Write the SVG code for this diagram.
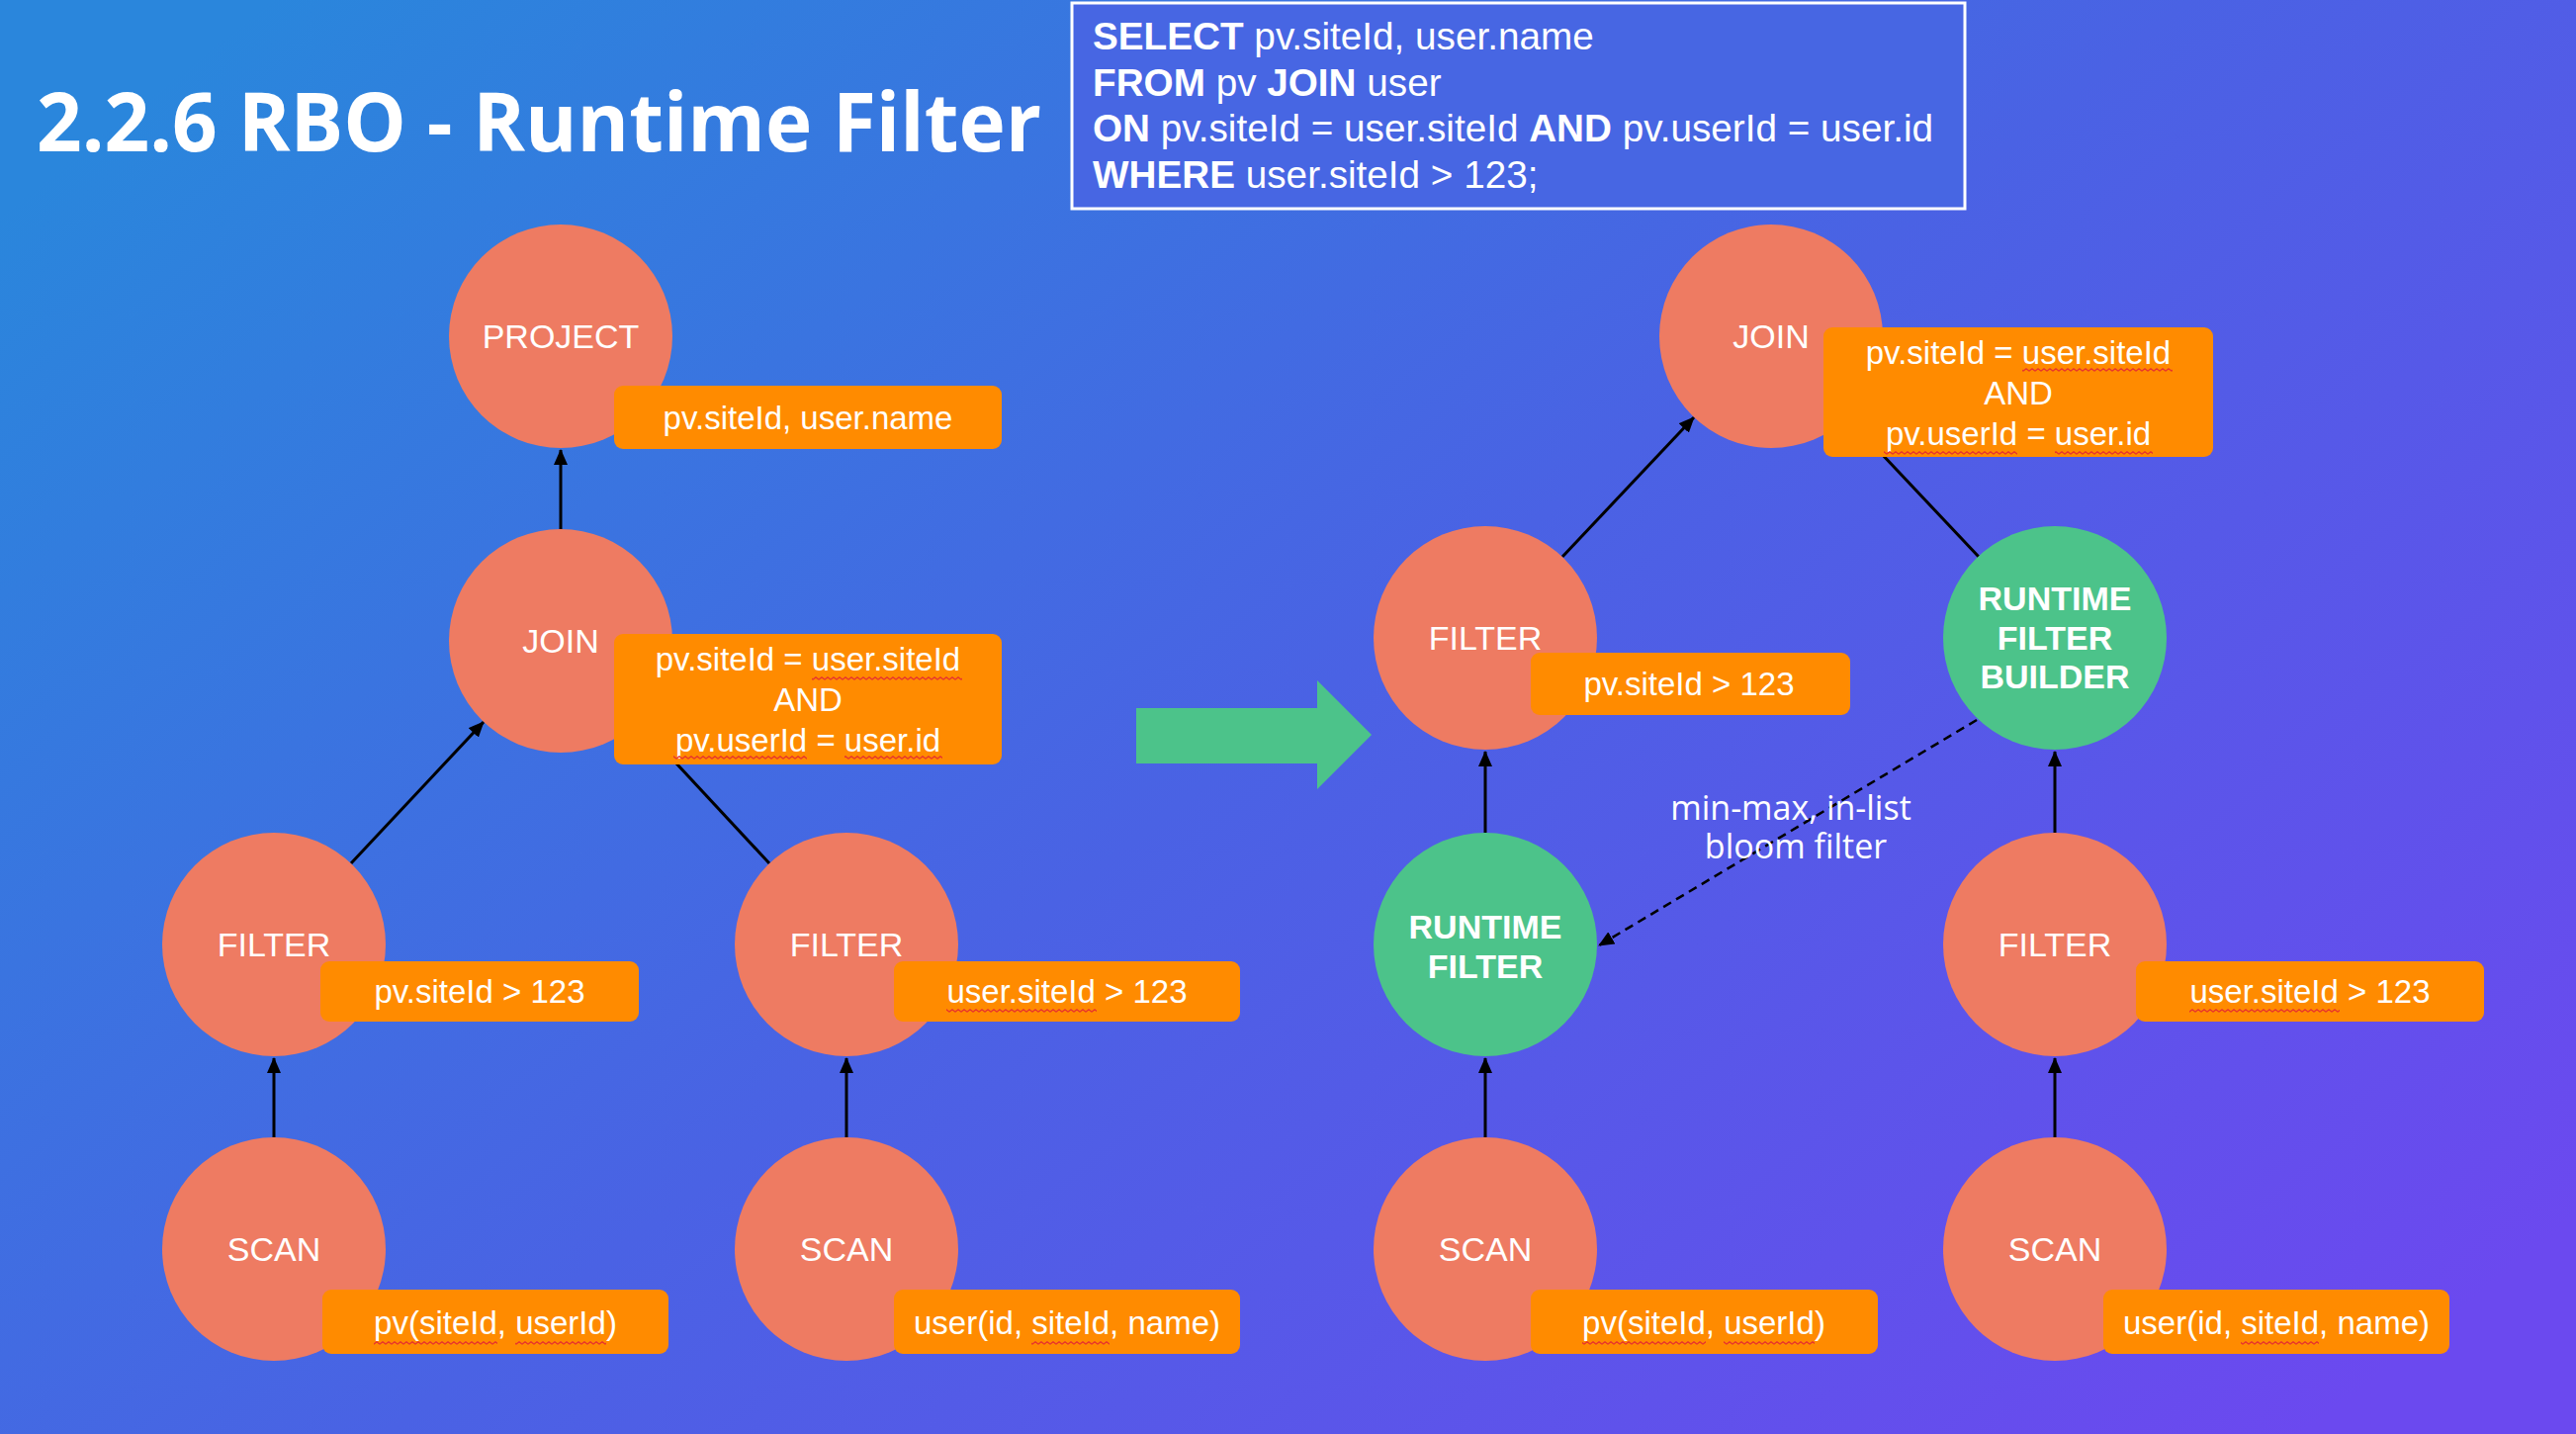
<svg xmlns="http://www.w3.org/2000/svg" width="2605" height="1450" viewBox="0 0 2605 1450">
<defs>
<linearGradient id="bg" x1="0" y1="0.15" x2="1" y2="0.85">
<stop offset="0" stop-color="#2a86dc"/>
<stop offset="0.5" stop-color="#4a62e4"/>
<stop offset="1" stop-color="#6b49ef"/>
</linearGradient>
<marker id="ah" markerUnits="userSpaceOnUse" markerWidth="16" markerHeight="14" refX="15" refY="7" orient="auto">
<path d="M0,0 L16,7 L0,14 Z" fill="#000"/>
</marker>
<pattern id="sq" patternUnits="userSpaceOnUse" width="6" height="4">
<path d="M0,3.2 L3,0.8 L6,3.2" fill="none" stroke="#e8352b" stroke-width="1.3"/>
</pattern>
<style>
.op{fill:#ee7b62}
.gr{fill:#4cc38a}
.lb{fill:#ff8b00}
.nt{font-family:"Liberation Sans",Arial,sans-serif;font-size:34px;fill:#fff;text-anchor:middle}
.bt{font-family:"Liberation Sans",Arial,sans-serif;font-size:34px;fill:#fff;text-anchor:middle;font-weight:bold}
.lt{font-family:"Liberation Sans",Arial,sans-serif;font-size:33px;fill:#fff;text-anchor:middle}
.sql{font-family:"Liberation Sans",Arial,sans-serif;font-size:38.7px;fill:#fff}
.sql .k{font-weight:bold}
.ln{stroke:#000;stroke-width:3;fill:none}
.an{font-family:"Open Sans","Noto Sans",sans-serif;font-size:34px;fill:#fff;text-anchor:middle}
</style>
</defs>
<rect x="0" y="0" width="2605" height="1450" fill="url(#bg)"/>

<text id="title" x="37" y="153" font-family="'Open Sans','Noto Sans',sans-serif" font-weight="bold" font-size="82" fill="#fff" textLength="1016" lengthAdjust="spacingAndGlyphs">2.2.6 RBO - Runtime Filter</text>

<g id="sql-box">
<rect x="1084" y="3" width="903" height="208" fill="#4766e3" stroke="#fff" stroke-width="3"/>
<text class="sql" x="1105" y="50"><tspan class="k">SELECT</tspan> pv.siteId, user.name</text>
<text class="sql" x="1105" y="97"><tspan class="k">FROM</tspan> pv <tspan class="k">JOIN</tspan> user</text>
<text class="sql" x="1105" y="143"><tspan class="k">ON</tspan> pv.siteId = user.siteId <tspan class="k">AND</tspan> pv.userId = user.id</text>
<text class="sql" x="1105" y="190"><tspan class="k">WHERE</tspan> user.siteId &gt; 123;</text>
</g>

<g id="connectors">
<line class="ln" x1="567" y1="535" x2="567" y2="455" marker-end="url(#ah)"/>
<line class="ln" x1="355" y1="873" x2="489" y2="730" marker-end="url(#ah)"/>
<line class="ln" x1="645" y1="730" x2="778" y2="873"/>
<line class="ln" x1="277" y1="1150" x2="277" y2="1070" marker-end="url(#ah)"/>
<line class="ln" x1="856" y1="1150" x2="856" y2="1070" marker-end="url(#ah)"/>
<line class="ln" x1="1580" y1="563" x2="1713" y2="422" marker-end="url(#ah)"/>
<line class="ln" x1="1868" y1="422" x2="2001" y2="563"/>
<line class="ln" x1="1502" y1="842" x2="1502" y2="760" marker-end="url(#ah)"/>
<line class="ln" x1="2078" y1="842" x2="2078" y2="760" marker-end="url(#ah)"/>
<line class="ln" x1="1502" y1="1150" x2="1502" y2="1070" marker-end="url(#ah)"/>
<line class="ln" x1="2078" y1="1150" x2="2078" y2="1070" marker-end="url(#ah)"/>
<line x1="1999" y1="728" x2="1617" y2="956" stroke="#000" stroke-width="2.5" stroke-dasharray="9,6" marker-end="url(#ah)"/>
</g>

<g id="l-project">
<circle class="op" cx="567" cy="340" r="113"/>
<text class="nt" x="567" y="352">PROJECT</text>
<rect class="lb" x="621" y="390" width="392" height="64" rx="9"/>
<text class="lt" x="817" y="434">pv.siteId, user.name</text>
</g>

<g id="l-join">
<circle class="op" cx="567" cy="648" r="113"/>
<text class="nt" x="567" y="660">JOIN</text>
<rect class="lb" x="621" y="641" width="392" height="132" rx="9"/>
<text class="lt" x="817" y="678">pv.siteId = user.siteId</text>
<text class="lt" x="817" y="719">AND</text>
<text class="lt" x="817" y="760">pv.userId = user.id</text>
<rect x="821" y="684" width="152" height="4" fill="url(#sq)"/>
<rect x="681" y="764" width="135" height="4" fill="url(#sq)"/>
<rect x="854" y="764" width="99" height="4" fill="url(#sq)"/>
</g>

<g id="l-filter-pv">
<circle class="op" cx="277" cy="955" r="113"/>
<text class="nt" x="277" y="967">FILTER</text>
<rect class="lb" x="324" y="972" width="322" height="61" rx="9"/>
<text class="lt" x="485" y="1014">pv.siteId &gt; 123</text>
</g>

<g id="l-filter-user">
<circle class="op" cx="856" cy="955" r="113"/>
<text class="nt" x="856" y="967">FILTER</text>
<rect class="lb" x="904" y="972" width="350" height="61" rx="9"/>
<text class="lt" x="1079" y="1014">user.siteId &gt; 123</text>
<rect x="957" y="1020" width="152" height="4" fill="url(#sq)"/>
</g>

<g id="l-scan-pv">
<circle class="op" cx="277" cy="1263" r="113"/>
<text class="nt" x="277" y="1275">SCAN</text>
<rect class="lb" x="326" y="1304" width="350" height="65" rx="9"/>
<text class="lt" x="501" y="1349">pv(siteId, userId)</text>
<rect x="378" y="1356" width="125" height="4" fill="url(#sq)"/>
<rect x="521" y="1356" width="92" height="4" fill="url(#sq)"/>
</g>

<g id="l-scan-user">
<circle class="op" cx="856" cy="1263" r="113"/>
<text class="nt" x="856" y="1275">SCAN</text>
<rect class="lb" x="904" y="1304" width="350" height="65" rx="9"/>
<text class="lt" x="1079" y="1349">user(id, siteId, name)</text>
<rect x="1043" y="1356" width="79" height="4" fill="url(#sq)"/>
</g>

<g id="transform-arrow">
<polygon class="gr" points="1149,716 1332,716 1332,688 1387,743 1332,798 1332,772 1149,772"/>
</g>

<g id="r-join">
<circle class="op" cx="1791" cy="340" r="113"/>
<text class="nt" x="1791" y="352">JOIN</text>
<rect class="lb" x="1844" y="331" width="394" height="131" rx="9"/>
<text class="lt" x="2041" y="368">pv.siteId = user.siteId</text>
<text class="lt" x="2041" y="409">AND</text>
<text class="lt" x="2041" y="450">pv.userId = user.id</text>
<rect x="2045" y="372" width="152" height="4" fill="url(#sq)"/>
<rect x="1905" y="456" width="135" height="4" fill="url(#sq)"/>
<rect x="2078" y="456" width="99" height="4" fill="url(#sq)"/>
</g>

<g id="r-filter-pv">
<circle class="op" cx="1502" cy="645" r="113"/>
<text class="nt" x="1502" y="657">FILTER</text>
<rect class="lb" x="1548" y="660" width="323" height="63" rx="9"/>
<text class="lt" x="1708" y="703">pv.siteId &gt; 123</text>
</g>

<g id="r-rf-builder">
<circle class="gr" cx="2078" cy="645" r="113"/>
<text class="bt" x="2078" y="617">RUNTIME</text>
<text class="bt" x="2078" y="657">FILTER</text>
<text class="bt" x="2078" y="696">BUILDER</text>
</g>

<g id="r-runtime-filter">
<circle class="gr" cx="1502" cy="955" r="113"/>
<text class="bt" x="1502" y="949">RUNTIME</text>
<text class="bt" x="1502" y="989">FILTER</text>
</g>

<g id="r-filter-user">
<circle class="op" cx="2078" cy="955" r="113"/>
<text class="nt" x="2078" y="967">FILTER</text>
<rect class="lb" x="2160" y="972" width="352" height="61" rx="9"/>
<text class="lt" x="2336" y="1014">user.siteId &gt; 123</text>
<rect x="2214" y="1020" width="152" height="4" fill="url(#sq)"/>
</g>

<g id="r-scan-pv">
<circle class="op" cx="1502" cy="1263" r="113"/>
<text class="nt" x="1502" y="1275">SCAN</text>
<rect class="lb" x="1548" y="1304" width="351" height="65" rx="9"/>
<text class="lt" x="1723" y="1349">pv(siteId, userId)</text>
<rect x="1600" y="1356" width="125" height="4" fill="url(#sq)"/>
<rect x="1743" y="1356" width="92" height="4" fill="url(#sq)"/>
</g>

<g id="r-scan-user">
<circle class="op" cx="2078" cy="1263" r="113"/>
<text class="nt" x="2078" y="1275">SCAN</text>
<rect class="lb" x="2127" y="1304" width="350" height="65" rx="9"/>
<text class="lt" x="2302" y="1349">user(id, siteId, name)</text>
<rect x="2266" y="1356" width="79" height="4" fill="url(#sq)"/>
</g>

<g id="annotation">
<text class="an"><tspan x="1811" y="829">min-max, in-list</tspan><tspan x="1816" y="868">bloom filter</tspan></text>
</g>
</svg>
